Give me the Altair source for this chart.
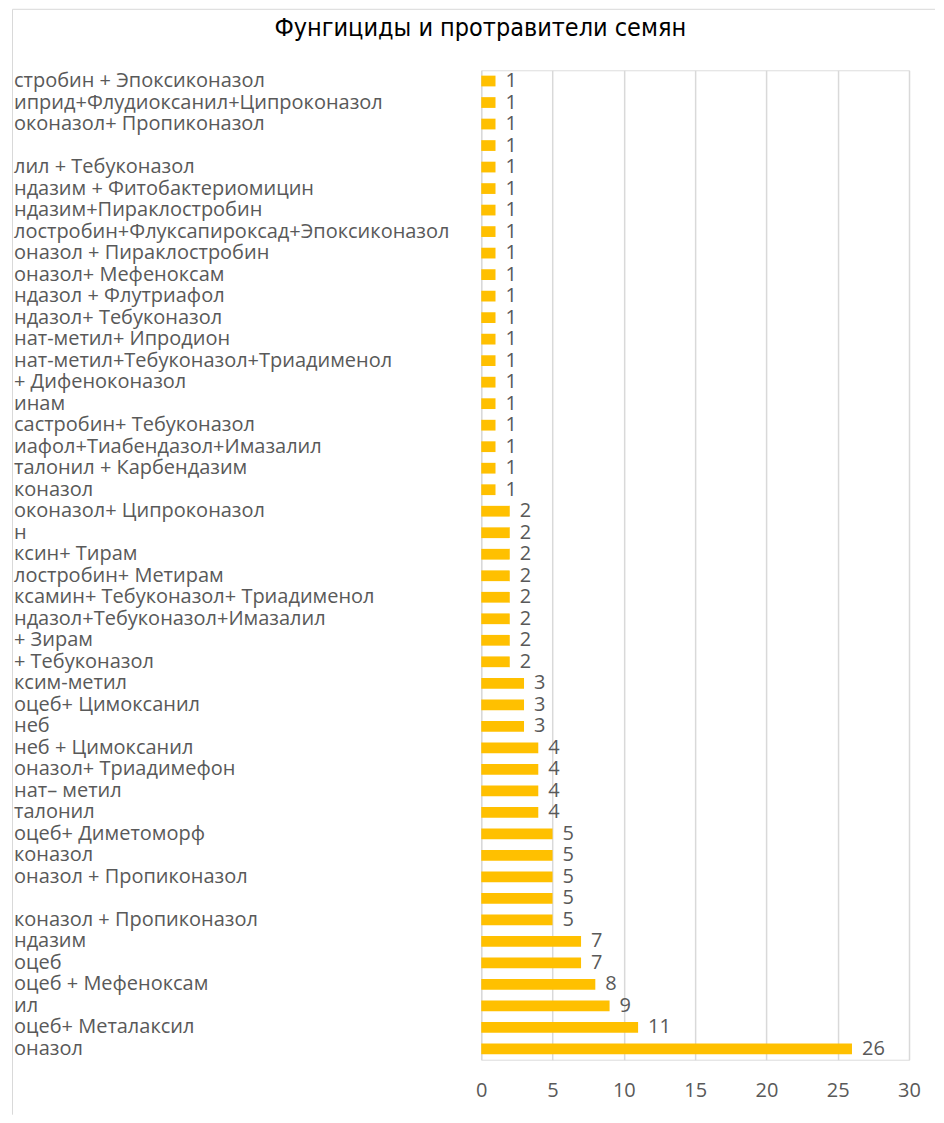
import json
import altair as alt
import pandas as pd

title_text = "Фунгициды и протравители семян"

labels = [
    "стробин + Эпоксиконазол",
    "иприд+Флудиоксанил+Ципроконазол",
    "оконазол+ Пропиконазол",
    "",
    "лил + Тебуконазол",
    "ндазим + Фитобактериомицин",
    "ндазим+Пираклостробин",
    "лостробин+Флуксапироксад+Эпоксиконазол",
    "оназол + Пираклостробин",
    "оназол+ Мефеноксам",
    "ндазол + Флутриафол",
    "ндазол+ Тебуконазол",
    "нат-метил+ Ипродион",
    "нат-метил+Тебуконазол+Триадименол",
    "\u00a0+ Дифеноконазол",
    "инам",
    "састробин+ Тебуконазол",
    "иафол+Тиабендазол+Имазалил",
    "талонил + Карбендазим",
    "коназол",
    "оконазол+ Ципроконазол",
    "н",
    "ксин+ Тирам",
    "лостробин+ Метирам",
    "ксамин+ Тебуконазол+ Триадименол",
    "ндазол+Тебуконазол+Имазалил",
    "\u00a0+ Зирам",
    "\u00a0+ Тебуконазол",
    "ксим-метил",
    "оцеб+ Цимоксанил",
    "неб",
    "неб + Цимоксанил",
    "оназол+ Триадимефон",
    "нат– метил",
    "талонил",
    "оцеб+ Диметоморф",
    "коназол",
    "оназол + Пропиконазол",
    "",
    "коназол + Пропиконазол",
    "ндазим",
    "оцеб",
    "оцеб + Мефеноксам",
    "ил",
    "оцеб+ Металаксил",
    "оназол",
]

values = [1] * 20 + [2] * 8 + [3] * 3 + [4] * 4 + [5] * 5 + [7, 7, 8, 9, 11, 26]

x_ticks = [0, 5, 10, 15, 20, 25, 30]

df = pd.DataFrame({"idx": list(range(len(labels))), "label": labels, "value": values})

label_expr = json.dumps(labels, ensure_ascii=False) + "[datum.value]"

GRAY = "#595959"
FONT = "Open Sans"
FS = 20

y_enc = alt.Y(
    "idx:O",
    sort="ascending",
    scale=alt.Scale(paddingInner=0.5, paddingOuter=0.25),
    axis=alt.Axis(
        title=None,
        labelExpr=label_expr,
        labelAlign="left",
        labelBaseline="middle",
        labelPadding=468,
        ticks=False,
        tickSize=0,
        domain=False,
        labelFont=FONT,
        labelFontSize=FS,
        labelColor=GRAY,
        labelLimit=0,
    ),
)

x_enc = alt.X(
    "value:Q",
    scale=alt.Scale(domain=[0, 30], nice=False),
    axis=alt.Axis(
        title=None,
        values=x_ticks,
        grid=True,
        gridColor="#d9d9d9",
        gridWidth=1.5,
        domain=False,
        ticks=False,
        labelFlush=False,
        labelPadding=21,
        labelFont=FONT,
        labelFontSize=FS,
        labelColor=GRAY,
    ),
)

base = alt.Chart(df)

bars = base.mark_bar(color="#FFC000").encode(x=x_enc, y=y_enc)

texts = base.mark_text(
    align="left", baseline="middle", dx=10, font=FONT, fontSize=FS, color=GRAY
).encode(x="value:Q", y=alt.Y("idx:O", sort="ascending"), text="value:Q")

one = pd.DataFrame({"t": [title_text]})

title_mark = alt.Chart(one).mark_text(
    align="center",
    baseline="middle",
    font="DejaVu Sans Condensed, Roboto Condensed, Liberation Sans Narrow, sans-serif",
    fontSize=25,
    color="#000000",
).encode(x=alt.value(-1), y=alt.value(-42), text="t:N")

frame_top = alt.Chart(one).mark_rule(
    color="#d9d9d9", strokeWidth=1
).encode(x=alt.value(-469), x2=alt.value(454), y=alt.value(-61))

frame_left = alt.Chart(one).mark_rule(
    color="#d9d9d9", strokeWidth=1
).encode(x=alt.value(-469), y=alt.value(-61), y2=alt.value(1045))

chart = (
    alt.layer(bars, texts, title_mark, frame_top, frame_left)
    .properties(
        width=428,
        height=990,
        padding={"left": 3.5, "top": 0, "right": 0, "bottom": 0},
    )
    .configure_view(stroke=None)
    .configure(background="white")
)

chart.save("out.html", embed_options={"renderer": "svg", "actions": False})
